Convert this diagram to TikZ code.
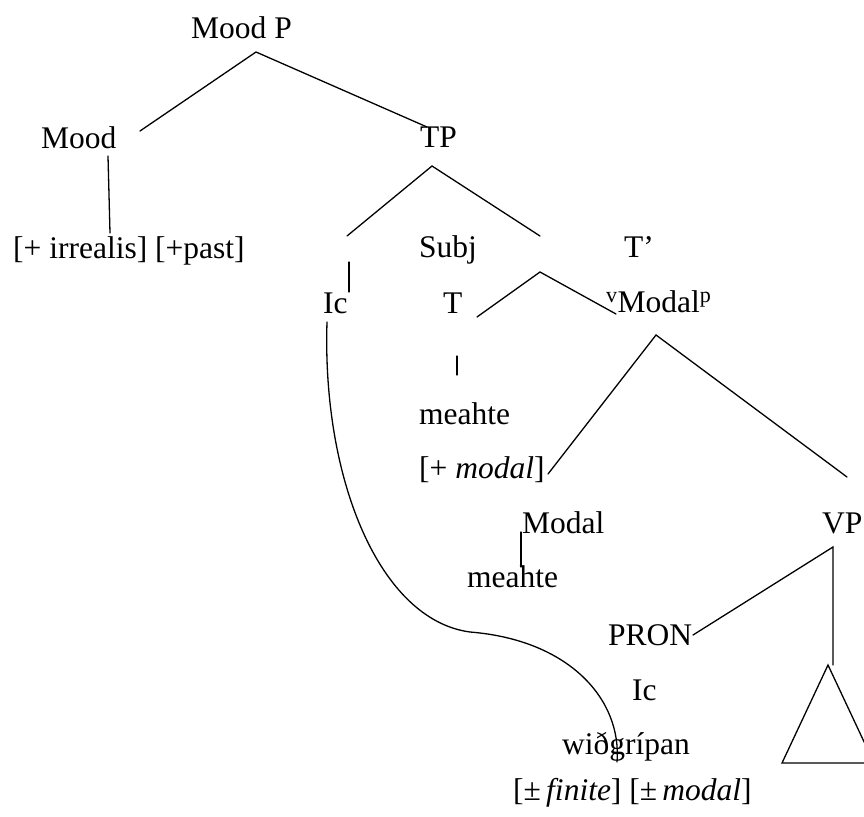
\documentclass[tikz,border=0pt]{standalone}
\usepackage{fontspec}
\setmainfont{Liberation Serif}
\begin{document}
\begin{tikzpicture}[x=1pt,y=-1pt,
  lbl/.style={anchor=base west, inner sep=0pt, font=\fontsize{31.5}{36}\selectfont},
  br/.style={line width=1.3pt, line cap=round}]
\useasboundingbox (0,0) rectangle (864,816);
% labels
\node[lbl] (moodp) at (191,38) {Mood P};
\node[lbl] (mood) at (41,148) {Mood};
\node[lbl] (tp) at (420,147) {TP};
\node[lbl] (feat) at (13,258) {[+ irrealis] [+past]};
\node[lbl] (subj) at (419,257) {Subj};
\node[lbl] (tbar) at (624,257) {T’};
\node[lbl] (ic1) at (323,313) {Ic};
\node[lbl] (t) at (443,313) {T};
\node[lbl] (modalp) at (606,312) {\textsuperscript{v}Modal\textsuperscript{p}};
\node[lbl] (meahte1) at (419,424) {meahte};
\node[lbl] (plusmodal) at (419,478) {[+ \textit{modal}]};
\node[lbl] (modal) at (522,533) {Modal};
\node[lbl] (vp) at (822,533) {VP};
\node[lbl] (meahte2) at (467,587) {meahte};
\node[lbl] (pron) at (608,645) {PRON};
\node[lbl] (ic2) at (632,700) {Ic};
\node[lbl] (wid) at (562,754) {wiðgrípan};
\node[lbl] (pm) at (513,800) {[±\,\textit{finite}] [±\,\textit{modal}]};
% coordinates
\coordinate (aMoodP) at (256,52);
\coordinate (eMood) at (140,131);
\coordinate (eTP) at (427,127);
\coordinate (mTop) at (108,156);
\coordinate (mBot) at (110,233);
\coordinate (aTP) at (432,166);
\coordinate (eTPl) at (347,236);
\coordinate (eTPr) at (540,236);
\coordinate (icTop) at (349,262);
\coordinate (icBot) at (349,292);
\coordinate (aT) at (540,272);
\coordinate (eTl) at (477,317);
\coordinate (eTr) at (616,314);
\coordinate (tTop) at (457,356);
\coordinate (tBot) at (457,375);
\coordinate (aMP) at (656,335);
\coordinate (eMPl) at (548,474);
\coordinate (eMPr) at (847,477);
\coordinate (moTop) at (521,532);
\coordinate (moBot) at (521,567);
\coordinate (aVP) at (833,547);
\coordinate (eVPl) at (693,635);
\coordinate (eVPd) at (833,665);
\coordinate (triTop) at (828,665);
\coordinate (triL) at (782,763);
\coordinate (triR) at (874,763);
\coordinate (cStart) at (327,322);
\coordinate (cMid) at (470,632);
\coordinate (cEnd) at (617,762);
% branches
\draw[br] (eMood) -- (aMoodP) -- (eTP);
\draw[br] (mTop) -- (mBot);
\draw[br] (eTPl) -- (aTP) -- (eTPr);
\draw[br] (icTop) -- (icBot);
\draw[br] (eTl) -- (aT) -- (eTr);
\draw[br] (tTop) -- (tBot);
\draw[br] (eMPl) -- (aMP) -- (eMPr);
\draw[br] (moTop) -- (moBot);
\draw[br] (eVPl) -- (aVP) -- (eVPd);
\begin{scope}
\clip (0,0) rectangle (864,816);
\draw[br, line join=miter] (triTop) -- (triL) -- (triR) -- cycle;
\end{scope}
% movement curve
\draw[br] (cStart) .. controls (322,480) and (380,620) .. (cMid)
  .. controls (570,640) and (622,700) .. (cEnd);
\end{tikzpicture}
\end{document}
